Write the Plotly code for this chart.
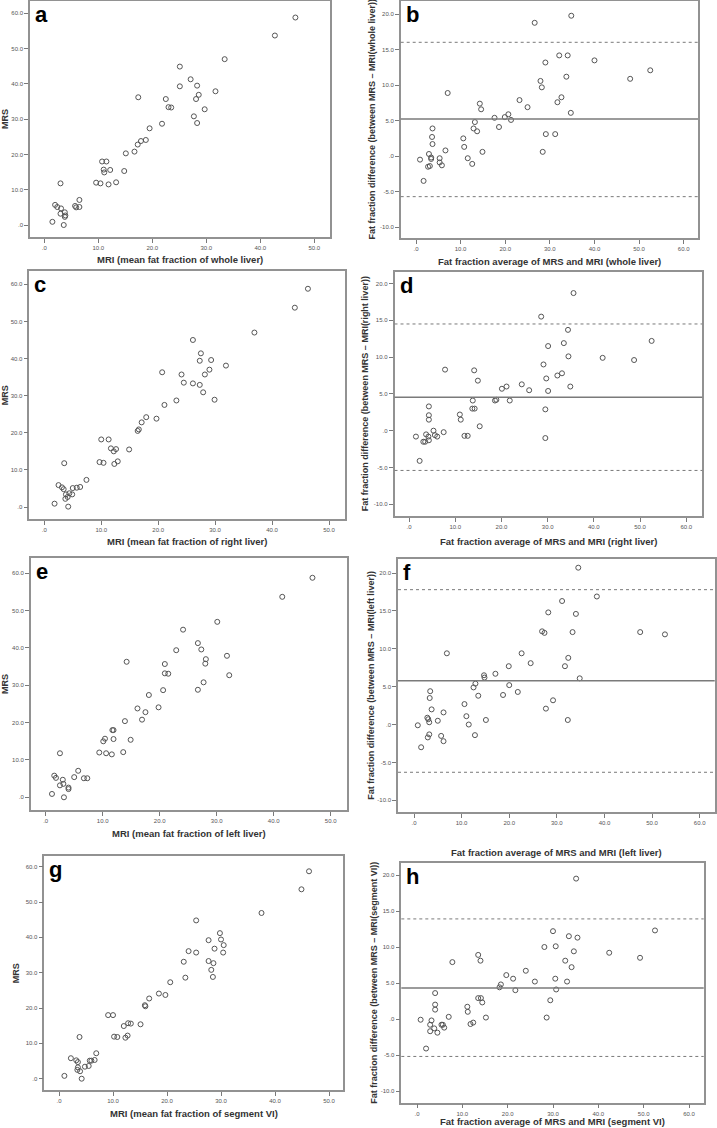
import plotly.graph_objects as go

W, H = 717, 1128

# ---------------- data ----------------
# a: MRI whole liver vs MRS
a_mri = [46.5, 42.7, 33.4, 25.1, 27.1, 25.1, 28.3, 31.7, 28.6, 28.1, 22.5, 17.4, 23.0, 23.5, 29.7, 27.7,
         28.3, 21.8, 19.5, 18.8, 17.9, 17.3, 16.7, 15.1, 10.7, 11.5, 11.0, 11.1, 12.2, 14.8, 9.6, 10.4,
         13.3, 11.9, 3.0, 6.5, 2.0, 2.4, 5.7, 5.9, 6.5, 3.1, 3.8, 3.0, 3.9, 3.8, 1.5, 3.6]
a_mrs = [58.8, 53.7, 47.0, 44.9, 41.3, 39.3, 39.5, 37.9, 36.9, 35.7, 35.7, 36.2, 33.4, 33.3, 32.8, 30.8,
         28.9, 28.7, 27.4, 24.1, 23.8, 22.8, 20.8, 20.3, 18.0, 18.0, 15.7, 14.9, 15.6, 15.3, 12.0, 11.8,
         12.1, 11.5, 11.8, 7.1, 5.7, 5.1, 5.4, 5.0, 5.1, 4.7, 3.6, 3.2, 2.7, 2.3, 0.9, 0.0]

# b: Bland-Altman whole liver
b_avg = [34.8, 26.6, 32.1, 34.0, 40.0, 29.0, 52.5, 48.0, 33.7, 27.9, 28.2, 7.1, 32.6, 31.7, 23.2, 25.0,
         14.3, 14.6, 34.7, 17.6, 19.9, 20.7, 21.3, 13.2, 12.9, 13.7, 18.6, 3.7, 3.6, 29.1, 31.2, 10.6,
         3.7, 10.8, 6.6, 14.9, 28.4, 2.9, 3.4, 3.4, 0.9, 5.3, 11.6, 5.3, 12.6, 5.8, 3.1, 2.7, 1.7]
b_diff = [19.8, 18.8, 14.2, 14.2, 13.5, 13.2, 12.1, 10.9, 11.2, 10.6, 9.7, 8.9, 8.3, 7.6, 7.9, 6.9,
          7.4, 6.6, 6.1, 5.4, 5.5, 5.9, 5.1, 4.8, 3.9, 3.5, 4.1, 3.9, 2.7, 3.1, 3.1, 2.5,
          1.7, 1.3, 0.8, 0.6, 0.6, 0.3, -0.2, -0.4, -0.5, -0.3, -0.3, -0.9, -1.1, -1.3, -1.4, -1.5, -3.5]
b_lines = [5.23, 16.05, -5.72]  # mean, upper limit, lower limit

# c: MRI right liver vs MRS
c_mri = [46.3, 44.0, 36.9, 26.1, 27.5, 27.3, 29.3, 31.9, 29.0, 20.7, 24.1, 28.2, 24.5, 26.1, 27.3, 27.9,
         29.9, 23.2, 21.1, 17.9, 19.7, 17.1, 16.6, 16.4, 10.0, 11.3, 11.7, 12.6, 12.2, 14.9, 9.7, 10.4,
         12.9, 12.3, 3.5, 7.4, 2.5, 3.1, 3.4, 5.0, 5.7, 6.3, 3.8, 4.4, 4.9, 4.1, 3.7, 1.8, 4.2]
c_mrs = [58.8, 53.7, 47.0, 45.0, 41.4, 39.4, 39.6, 38.1, 37.0, 36.3, 35.7, 35.7, 33.5, 33.3, 32.9, 30.9,
         28.9, 28.7, 27.5, 24.2, 23.8, 22.8, 20.9, 20.5, 18.2, 18.2, 15.8, 15.6, 15.0, 15.5, 12.1, 11.9,
         12.3, 11.6, 11.8, 7.3, 5.9, 5.3, 4.8, 5.1, 5.2, 5.4, 3.4, 3.7, 3.4, 2.7, 2.2, 0.9, 0.1]

# d: Bland-Altman right liver
d_avg = [35.6, 28.6, 34.4, 33.5, 30.1, 52.5, 34.5, 41.9, 48.7, 29.1, 7.8, 14.1, 33.1, 32.1, 29.7, 14.9,
         24.4, 21.1, 20.1, 26.0, 34.9, 30.1, 13.8, 18.6, 18.9, 21.8, 4.3, 13.7, 14.2, 29.5, 4.3, 11.0,
         4.3, 11.2, 15.3, 5.3, 7.5, 3.7, 5.6, 1.5, 4.2, 6.1, 12.0, 12.7, 29.5, 4.3, 3.1, 3.5, 2.3]
d_diff = [18.7, 15.5, 13.7, 11.9, 11.5, 12.2, 10.1, 9.9, 9.6, 9.0, 8.3, 8.2, 7.8, 7.5, 7.1, 6.8,
          6.3, 6.0, 5.7, 5.5, 6.0, 5.4, 4.1, 4.1, 4.2, 4.1, 3.3, 3.0, 3.0, 2.9, 2.1, 2.2,
          1.5, 1.5, 0.6, 0.0, -0.2, -0.5, -0.6, -0.8, -0.8, -0.8, -0.7, -0.7, -1.0, -1.3, -1.5, -1.5, -4.1]
d_lines = [4.55, 14.5, -5.4]

# e: MRI left liver vs MRS
e_mri = [46.8, 41.5, 30.1, 24.1, 26.7, 27.3, 22.9, 31.8, 28.1, 28.0, 20.9, 14.2, 21.5, 20.9, 32.2, 27.7,
         26.7, 20.6, 18.1, 16.1, 19.8, 17.5, 16.9, 13.9, 11.7, 11.9, 10.4, 10.1, 11.9, 14.9, 9.4, 10.6,
         13.6, 11.6, 2.5, 5.7, 1.5, 1.8, 5.0, 6.7, 7.3, 3.0, 3.1, 2.5, 4.0, 4.0, 1.1, 3.2]
e_mrs = [58.8, 53.7, 47.0, 44.9, 41.3, 39.6, 39.4, 37.9, 37.0, 35.8, 35.7, 36.3, 33.1, 33.2, 32.7, 30.8,
         28.8, 28.7, 27.4, 23.8, 24.1, 22.8, 20.8, 20.4, 18.0, 18.0, 15.7, 15.0, 15.6, 15.4, 12.0, 11.8,
         12.1, 11.5, 11.8, 7.1, 5.8, 5.2, 5.4, 5.1, 5.1, 4.7, 3.6, 3.2, 2.6, 2.2, 0.9, 0.0]

# f: Bland-Altman left liver
f_avg = [34.5, 38.4, 31.1, 28.2, 34.0, 26.9, 27.4, 33.3, 47.5, 52.7, 6.9, 22.6, 24.5, 32.4, 19.9, 31.7,
         17.1, 14.7, 14.8, 12.9, 34.8, 20.0, 12.5, 3.4, 21.8, 13.5, 18.7, 3.3, 29.2, 10.6, 3.7, 27.7,
         6.2, 11.0, 2.8, 3.0, 5.0, 3.2, 15.1, 32.3, 11.5, 0.8, 3.2, 12.8, 5.7, 2.9, 6.2, 1.5]
f_diff = [20.7, 16.9, 16.3, 14.8, 14.6, 12.3, 12.1, 12.2, 12.2, 11.9, 9.4, 9.4, 8.1, 8.8, 7.7, 7.7,
          6.7, 6.5, 6.2, 5.4, 6.1, 5.2, 4.9, 4.4, 4.3, 3.8, 3.9, 3.5, 3.2, 2.7, 2.0, 2.1,
          1.6, 1.1, 0.9, 0.7, 0.5, 0.3, 0.6, 0.6, 0.0, -0.1, -1.3, -1.4, -1.5, -1.7, -2.2, -3.0]
f_lines = [5.79, 17.8, -6.3]

# g: MRI segment VI vs MRS
g_mri = [46.3, 44.9, 37.5, 25.4, 29.8, 30.0, 27.7, 30.5, 28.8, 24.0, 25.4, 30.4, 23.1, 27.7, 28.6, 28.2,
         28.5, 23.4, 20.6, 18.5, 19.7, 16.7, 15.9, 16.0, 9.1, 10.0, 12.8, 13.3, 12.0, 15.1, 10.2, 10.8,
         12.7, 12.3, 3.8, 6.9, 2.2, 3.2, 3.5, 5.7, 6.0, 6.6, 4.8, 5.5, 3.5, 3.4, 3.9, 1.0, 4.2]
g_mrs = [58.7, 53.6, 46.9, 44.8, 41.2, 39.4, 39.2, 37.8, 36.8, 36.1, 35.7, 35.7, 33.1, 33.3, 32.7, 30.8,
         28.8, 28.6, 27.3, 24.1, 23.7, 22.7, 20.8, 20.5, 18.0, 18.0, 15.7, 15.6, 14.9, 15.4, 11.9, 11.8,
         12.2, 11.6, 11.8, 7.2, 5.8, 5.2, 4.7, 5.1, 5.1, 5.3, 3.4, 3.6, 3.2, 2.5, 2.1, 0.8, 0.0]

# h: Bland-Altman segment VI
h_avg = [35.1, 30.0, 52.5, 33.5, 35.4, 30.6, 28.1, 34.6, 42.4, 49.2, 13.5, 14.0, 7.8, 32.7, 34.1, 24.0,
         19.7, 21.2, 26.0, 30.5, 33.1, 18.5, 18.2, 21.7, 30.7, 4.0, 13.5, 14.1, 14.4, 29.4, 4.0, 11.1,
         4.0, 11.2, 7.0, 15.2, 28.6, 0.8, 3.2, 2.9, 5.4, 5.7, 12.4, 11.8, 3.8, 6.0, 2.9, 4.5, 2.0]
h_diff = [19.5, 12.2, 12.3, 11.5, 11.3, 10.1, 10.0, 9.4, 9.2, 8.5, 8.9, 8.1, 7.9, 8.1, 7.2, 6.7,
          6.1, 5.6, 5.2, 5.6, 5.2, 4.8, 4.4, 4.0, 4.1, 3.6, 2.9, 2.9, 2.3, 2.6, 2.0, 1.7,
          1.3, 1.0, 0.3, 0.2, 0.2, -0.1, -0.2, -0.8, -0.8, -0.8, -0.5, -0.7, -1.3, -1.2, -1.7, -1.9, -4.1]
h_lines = [4.31, 13.9, -5.2]

scatter_xticks = [0, 10, 20, 30, 40, 50]
scatter_yticks = [0, 10, 20, 30, 40, 50, 60]
ba_xticks = [0, 10, 20, 30, 40, 50, 60]
ba_yticks = [-10, -5, 0, 5, 10, 15, 20]

ba_ytitle = "Fat fraction difference (between MRS \u2013 MRI({}))"
ba_xtitle = "Fat fraction average of MRS and MRI ({})"

# ---------------- layout spec (pixel geometry) ----------------
panels = [
    dict(letter="a", x=a_mri, y=a_mrs, lines=None, box=(30, 1, 330, 237),
         xcal=((0, 44.3), (50, 314.3)), ycal=((0, 225), (60, 13.3)),
         xt=scatter_xticks, yt=scatter_yticks,
         xtitle="MRI (mean fat fraction of whole liver)", ytitle="MRS", xty=259, ytx=5),
    dict(letter="b", x=b_avg, y=b_diff, lines=b_lines, box=(400.7, 1, 698, 238),
         xcal=((0, 416), (60, 683.7)), ycal=((20, 14.3), (-10, 227)),
         xt=ba_xticks, yt=ba_yticks,
         xtitle=ba_xtitle.format("whole liver"), ytitle=ba_ytitle.format("whole liver"), xty=261, ytx=371),
    dict(letter="c", x=c_mri, y=c_mrs, lines=None, box=(29.3, 271, 345, 519.3),
         xcal=((0, 44.3), (50, 329)), ycal=((0, 507), (60, 284.3)),
         xt=scatter_xticks, yt=scatter_yticks,
         xtitle="MRI (mean fat fraction of right liver)", ytitle="MRS", xty=541, ytx=5),
    dict(letter="d", x=d_avg, y=d_diff, lines=d_lines, box=(394.5, 272, 702.3, 516.3),
         xcal=((0, 409), (60, 686.3)), ycal=((20, 283.5), (-10, 504.3)),
         xt=ba_xticks, yt=ba_yticks,
         xtitle=ba_xtitle.format("right liver"), ytitle=ba_ytitle.format("right liver"), xty=541, ytx=365),
    dict(letter="e", x=e_mri, y=e_mrs, lines=None, box=(30.7, 558, 346.7, 810),
         xcal=((0, 45.7), (50, 330.7)), ycal=((0, 797.3), (60, 573.3)),
         xt=scatter_xticks, yt=scatter_yticks,
         xtitle="MRI (mean fat fraction of left liver)", ytitle="MRS", xty=833, ytx=5),
    dict(letter="f", x=f_avg, y=f_diff, lines=f_lines, box=(398, 559, 714.7, 812.3),
         xcal=((0, 414), (60, 699.7)), ycal=((20, 573), (-10, 800.3)),
         xt=ba_xticks, yt=ba_yticks,
         xtitle=ba_xtitle.format("left liver"), ytitle=ba_ytitle.format("left liver"), xty=852, ytx=371),
    dict(letter="g", x=g_mri, y=g_mrs, lines=None, box=(44.3, 856, 343.3, 1090.3),
         xcal=((0, 59), (50, 329)), ycal=((0, 1078.7), (60, 866.7)),
         xt=scatter_xticks, yt=scatter_yticks,
         xtitle="MRI (mean fat fraction of segment VI)", ytitle="MRS", xty=1113, ytx=16),
    dict(letter="h", x=h_avg, y=h_diff, lines=h_lines, box=(401.3, 862.7, 703.7, 1102.7),
         xcal=((0, 417), (60, 689)), ycal=((20, 875), (-10, 1091)),
         xt=ba_xticks, yt=ba_yticks,
         xtitle=ba_xtitle.format("segment VI"), ytitle=ba_ytitle.format("segment VI"), xty=1121, ytx=374),
]


def fmt(v):
    if abs(v) < 1e-9:
        return ".0"
    return f"{v:.1f}"


def p2v(p, cal):
    (v0, p0), (v1, p1) = cal
    return v0 + (p - p0) * (v1 - v0) / (p1 - p0)


FONT = "Liberation Sans"
fig = go.Figure()
layout = dict(width=W, height=H, margin=dict(l=0, r=0, t=0, b=0),
              paper_bgcolor="white", plot_bgcolor="white", showlegend=False)
shapes, annotations = [], []

for i, p in enumerate(panels, start=1):
    sfx = "" if i == 1 else str(i)
    L, T, R, B = p["box"]
    fig.add_trace(go.Scatter(
        x=p["x"], y=p["y"], mode="markers", xaxis="x" + sfx, yaxis="y" + sfx,
        marker=dict(symbol="circle-open", size=5, color="#555555", line=dict(width=1, color="#555555")),
        hoverinfo="x+y"))
    common = dict(showgrid=False, zeroline=False, showline=True, mirror=True,
                  linecolor="#929292", linewidth=1.5, ticks="outside", ticklen=4,
                  tickcolor="#7a7a7a", tickwidth=1,
                  tickfont=dict(family=FONT, size=6, color="#555555"))
    layout["xaxis" + sfx] = dict(common, domain=[L / W, R / W], anchor="y" + sfx,
                                 range=[p2v(L, p["xcal"]), p2v(R, p["xcal"])],
                                 tickmode="array", tickvals=p["xt"], ticktext=[fmt(v) for v in p["xt"]])
    layout["yaxis" + sfx] = dict(common, domain=[1 - B / H, 1 - T / H], anchor="x" + sfx,
                                 range=[p2v(B, p["ycal"]), p2v(T, p["ycal"])],
                                 tickmode="array", tickvals=p["yt"], ticktext=[fmt(v) for v in p["yt"]])
    if p["lines"]:
        for j, val in enumerate(p["lines"]):
            shapes.append(dict(type="line", xref="x" + sfx + " domain", yref="y" + sfx,
                               x0=0, x1=1, y0=val, y1=val,
                               line=dict(color="#7a7a7a", width=1.5 if j == 0 else 1,
                                         dash="solid" if j == 0 else "dot")))
    annotations.append(dict(text=p["letter"], xref="paper", yref="paper",
                            x=(L + 3) / W, y=1 - (T - 1) / H, xanchor="left", yanchor="top",
                            showarrow=False, font=dict(family=FONT, size=22, color="black", weight="bold")))
    annotations.append(dict(text=p["xtitle"], xref="paper", yref="paper",
                            x=(L + R) / 2 / W, y=1 - p["xty"] / H, xanchor="center", yanchor="middle",
                            showarrow=False, font=dict(family=FONT, size=9.5, color="#333333", weight="bold")))
    annotations.append(dict(text=p["ytitle"], xref="paper", yref="paper", textangle=-90,
                            x=p["ytx"] / W, y=1 - (T + B) / 2 / H, xanchor="center", yanchor="middle",
                            showarrow=False, font=dict(family=FONT, size=9, color="#333333", weight="bold")))

layout["shapes"] = shapes
layout["annotations"] = annotations
fig.update_layout(**layout)
fig.write_html("out.html", config={"displayModeBar": False},
               post_script="document.body.style.margin='0px';document.body.style.overflow='hidden';")
